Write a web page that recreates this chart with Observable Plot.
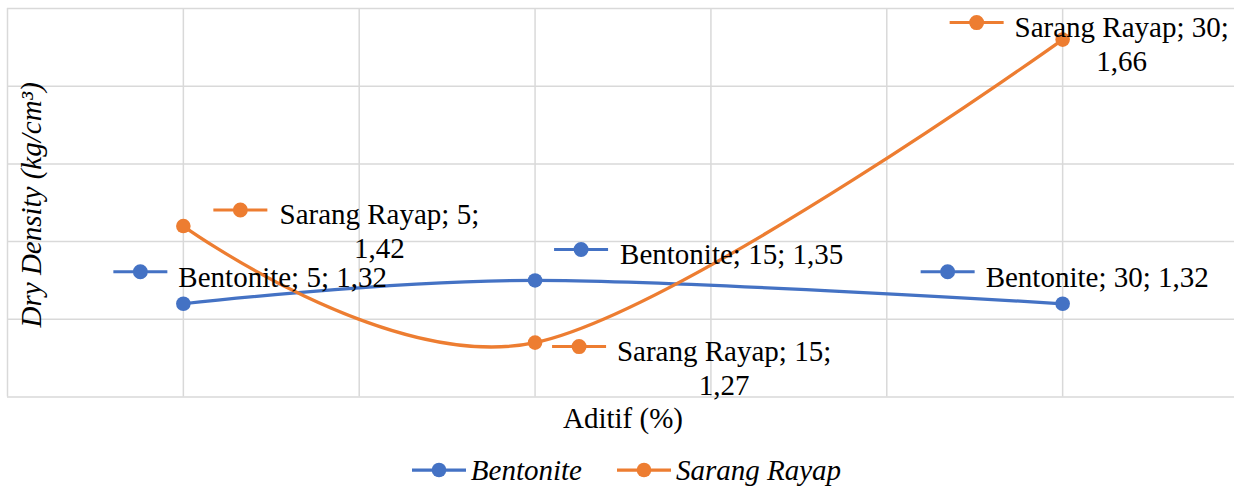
<!DOCTYPE html>
<html><head><meta charset="utf-8">
<script src="https://cdn.jsdelivr.net/npm/d3@7"></script>
<script src="https://cdn.jsdelivr.net/npm/@observablehq/plot@0.6"></script>
</head>
<body style="margin:0;background:#fff;font-family:'Liberation Serif', serif">
<div id="chart"></div>
<div id="legend" style="display:flex;justify-content:center;align-items:center;height:32px;padding-top:14px;padding-left:18px;font-style:italic;font-size:29px;color:#000;font-family:'Liberation Serif', serif"></div>
<script>
// ---- data ----
const aditif = [5, 15, 30];
const bentonite = [1.32, 1.35, 1.32];
const sarangRayap = [1.42, 1.27, 1.66];
const seriesNames = ["Bentonite", "Sarang Rayap"];
const gridXValues = [0, 5, 10, 15, 20, 25, 30, 35];
const gridYValues = [1.2, 1.3, 1.4, 1.5, 1.6, 1.7];
const xTitle = "Aditif (%)";
const yTitle = "Dry Density (kg/cm³)";

// ---- styling ----
const colors = {"Bentonite": "#4472C4", "Sarang Rayap": "#ED7D31"};
const FONT = 29;
const FAMILY = "'Liberation Serif', serif";
// label layout offsets (pixels) per series / point
const labelLayout = {
  "Bentonite": [
    {kdx: -43, kdy: -32, tdx: -5, tdy: -40.6, anchor: "start", wrap: false},
    {kdx: 46, kdy: -31, tdx: 85, tdy: -40.6, anchor: "start", wrap: false},
    {kdx: -115, kdy: -32, tdx: -77, tdy: -40.6, anchor: "start", wrap: false}
  ],
  "Sarang Rayap": [
    {kdx: 57, kdy: -16, tdx: 196, tdy: -26.3, anchor: "middle", wrap: true},
    {kdx: 44, kdy: 4, tdx: 189, tdy: -5.6, anchor: "middle", wrap: true},
    {kdx: -86, kdy: -17, tdx: 59, tdy: -26.6, anchor: "middle", wrap: true}
  ]
};

const rows = [];
seriesNames.forEach((s, i) => {
  const vals = i === 0 ? bentonite : sarangRayap;
  aditif.forEach((x, j) => rows.push({series: s, x, y: vals[j], idx: j}));
});

const fmt = v => v.toFixed(2).replace(".", ",");

const keySymbol = {
  draw(ctx) {
    ctx.moveTo(-27, 0); ctx.lineTo(27, 0);
    ctx.moveTo(6, 0); ctx.arc(0, 0, 6, 0, 2 * Math.PI);
  }
};

const labelMarks = [];
for (const r of rows) {
  const L = labelLayout[r.series][r.idx];
  const c = colors[r.series];
  labelMarks.push(Plot.dot([r], {x: "x", y: "y", dx: L.kdx, dy: L.kdy, symbol: keySymbol, r: 7,
    fill: c, stroke: c, strokeWidth: 3}));
  const txt = L.wrap ? `${r.series}; ${r.x};\n${fmt(r.y)}` : `${r.series}; ${r.x}; ${fmt(r.y)}`;
  labelMarks.push(Plot.text([r], {x: "x", y: "y", text: () => txt, dx: L.tdx, dy: L.tdy,
    textAnchor: L.anchor, lineAnchor: "top", lineHeight: 1.17, fontSize: FONT, fontFamily: FAMILY, fill: "#000"}));
}

const chart = Plot.plot({
  width: 1234,
  height: 440,
  marginLeft: 7,
  marginRight: 0,
  marginTop: 8,
  marginBottom: 43.5,
  style: "font-family:'Liberation Serif', serif; background:#fff; display:block",
  x: {domain: [0, 35], range: [7, 1238], axis: null},
  y: {domain: [1.2, 1.7], range: [396.5, 8], axis: null},
  marks: [
    Plot.ruleX(gridXValues, {stroke: "#d9d9d9", strokeWidth: 1.5}),
    Plot.ruleY(gridYValues, {stroke: "#d9d9d9", strokeWidth: 1.5}),
    ...seriesNames.map(s => Plot.line(rows.filter(d => d.series === s), {x: "x", y: "y",
      stroke: colors[s], strokeWidth: 3.25, curve: "cardinal", tension: 0})),
    ...seriesNames.map(s => Plot.dot(rows.filter(d => d.series === s), {x: "x", y: "y",
      r: 7.3, fill: colors[s], stroke: "none"})),
    ...labelMarks,
    Plot.text([yTitle], {frameAnchor: "left", textAnchor: "middle", lineAnchor: "middle", rotate: -90, dx: 24, dy: 2,
      fontStyle: "italic", fontSize: FONT, fontFamily: FAMILY, fill: "#000"}),
    Plot.text([xTitle], {frameAnchor: "bottom", textAnchor: "middle", lineAnchor: "top", dy: 10.5, dx: 2,
      fontSize: FONT, fontFamily: FAMILY, fill: "#000"})
  ]
});
document.getElementById("chart").appendChild(chart);

// legend
const legend = document.getElementById("legend");
for (const s of seriesNames) {
  const item = document.createElement("div");
  item.style.cssText = "display:flex;align-items:center;margin:0 17px";
  item.innerHTML = `<svg width="56" height="18" viewBox="0 0 56 18" style="margin-right:4px"><line x1="1" y1="9" x2="55" y2="9" stroke="${colors[s]}" stroke-width="3.25"/><circle cx="28" cy="9" r="7.3" fill="${colors[s]}"/></svg><span>${s}</span>`;
  legend.appendChild(item);
}
</script>
</body></html>
